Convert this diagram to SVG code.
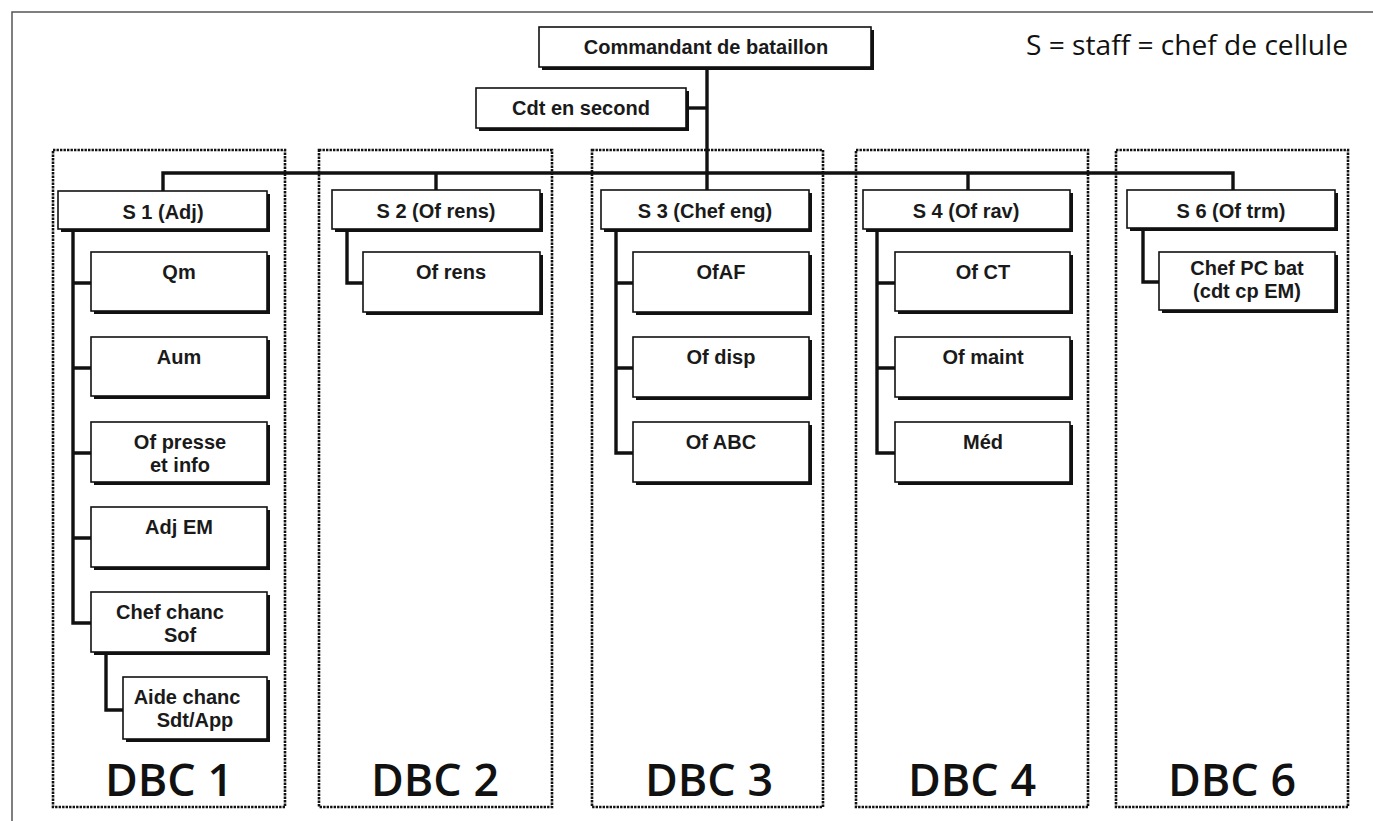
<svg xmlns="http://www.w3.org/2000/svg" width="1373" height="821" viewBox="0 0 1373 821">
<style>
.bg{fill:#ffffff}
.frame{fill:none;stroke:#555;stroke-width:1.5}
.dbc{fill:none;stroke:#111;stroke-width:2.6;stroke-dasharray:2.4 1.1}
.sh{fill:#111}
.bx{fill:#fff;stroke:#111;stroke-width:1.6}
.t{font-family:"Liberation Sans",Arial,sans-serif;font-weight:bold;font-size:20px;fill:#1a1a1a;text-anchor:middle}
.big{font-family:"Open Sans","Liberation Sans",sans-serif;font-weight:600;font-size:46px;fill:#111;text-anchor:middle}
.leg{font-family:"Open Sans","Liberation Sans",sans-serif;font-size:28px;fill:#111}
.c{fill:none;stroke:#111;stroke-width:3.4}
</style>
<rect class="bg" x="0" y="0" width="1373" height="821"/>
<path class="frame" d="M12,821 V12 H1373"/>

<text class="leg" x="1026" y="55" textLength="322" lengthAdjust="spacingAndGlyphs">S = staff = chef de cellule</text>

<!-- DBC frames -->
<g id="dbc1"><rect class="dbc" x="53" y="150" width="232" height="657"/><text class="big" x="169" y="796" textLength="128" lengthAdjust="spacingAndGlyphs">DBC 1</text></g>
<g id="dbc2"><rect class="dbc" x="319" y="150" width="233" height="657"/><text class="big" x="435" y="796" textLength="128" lengthAdjust="spacingAndGlyphs">DBC 2</text></g>
<g id="dbc3"><rect class="dbc" x="592" y="150" width="231" height="657"/><text class="big" x="709" y="796" textLength="128" lengthAdjust="spacingAndGlyphs">DBC 3</text></g>
<g id="dbc4"><rect class="dbc" x="856" y="150" width="232" height="657"/><text class="big" x="972" y="796" textLength="128" lengthAdjust="spacingAndGlyphs">DBC 4</text></g>
<g id="dbc6"><rect class="dbc" x="1116" y="150" width="232" height="657"/><text class="big" x="1232" y="796" textLength="128" lengthAdjust="spacingAndGlyphs">DBC 6</text></g>

<!-- connectors -->
<g id="connectors">
<path class="c" d="M707,67 V190"/>
<path class="c" d="M686,108 H707"/>
<path class="c" d="M163,191 V173 H1233 V190"/>
<path class="c" d="M436,173 V190"/>
<path class="c" d="M968,173 V190"/>
<path class="c" d="M73,229 V623 H91 M73,283 H91 M73,368 H91 M73,453 H91 M73,538 H91"/>
<path class="c" d="M106,651 V710 H123"/>
<path class="c" d="M347,229 V283 H363"/>
<path class="c" d="M616,229 V453 H633 M616,283 H633 M616,368 H633"/>
<path class="c" d="M877,229 V453 H895 M877,283 H895 M877,368 H895"/>
<path class="c" d="M1143,229 V282 H1159"/>
</g>

<!-- nodes -->
<g id="cmd"><rect class="sh" x="542" y="30" width="332" height="40"/><rect class="bx" x="539" y="27" width="332" height="40"/><text class="t" x="706" y="54">Commandant de bataillon</text></g>
<g id="cdt2"><rect class="sh" x="479" y="91" width="210" height="40"/><rect class="bx" x="476" y="88" width="210" height="40"/><text class="t" x="581" y="115">Cdt en second</text></g>

<g id="s1"><rect class="sh" x="61" y="194" width="209" height="38"/><rect class="bx" x="58" y="191" width="209" height="38"/><text class="t" x="163" y="219">S 1 (Adj)</text></g>
<g id="qm"><rect class="sh" x="94" y="255" width="176" height="59"/><rect class="bx" x="91" y="252" width="176" height="59"/><text class="t" x="179" y="279">Qm</text></g>
<g id="aum"><rect class="sh" x="94" y="340" width="176" height="59"/><rect class="bx" x="91" y="337" width="176" height="59"/><text class="t" x="179" y="364">Aum</text></g>
<g id="ofpresse"><rect class="sh" x="94" y="425" width="176" height="60"/><rect class="bx" x="91" y="422" width="176" height="60"/><text class="t" x="180" y="449">Of presse</text><text class="t" x="180" y="472">et info</text></g>
<g id="adjem"><rect class="sh" x="94" y="510" width="176" height="60"/><rect class="bx" x="91" y="507" width="176" height="60"/><text class="t" x="179" y="534">Adj EM</text></g>
<g id="chefchanc"><rect class="sh" x="94" y="595" width="176" height="60"/><rect class="bx" x="91" y="592" width="176" height="60"/><text class="t" x="170" y="619">Chef chanc</text><text class="t" x="180" y="642">Sof</text></g>
<g id="aidechanc"><rect class="sh" x="126" y="680" width="144" height="62"/><rect class="bx" x="123" y="677" width="144" height="62"/><text class="t" x="187" y="704">Aide chanc</text><text class="t" x="195" y="727">Sdt/App</text></g>

<g id="s2"><rect class="sh" x="335" y="193" width="208" height="39"/><rect class="bx" x="332" y="190" width="208" height="39"/><text class="t" x="436" y="218">S 2 (Of rens)</text></g>
<g id="ofrens"><rect class="sh" x="366" y="255" width="177" height="60"/><rect class="bx" x="363" y="252" width="177" height="60"/><text class="t" x="451" y="279">Of rens</text></g>

<g id="s3"><rect class="sh" x="604" y="193" width="208" height="39"/><rect class="bx" x="601" y="190" width="208" height="39"/><text class="t" x="705" y="218">S 3 (Chef eng)</text></g>
<g id="ofaf"><rect class="sh" x="636" y="255" width="176" height="60"/><rect class="bx" x="633" y="252" width="176" height="60"/><text class="t" x="721" y="279">OfAF</text></g>
<g id="ofdisp"><rect class="sh" x="636" y="340" width="176" height="60"/><rect class="bx" x="633" y="337" width="176" height="60"/><text class="t" x="721" y="364">Of disp</text></g>
<g id="ofabc"><rect class="sh" x="636" y="425" width="176" height="60"/><rect class="bx" x="633" y="422" width="176" height="60"/><text class="t" x="721" y="449">Of ABC</text></g>

<g id="s4"><rect class="sh" x="866" y="193" width="207" height="39"/><rect class="bx" x="863" y="190" width="207" height="39"/><text class="t" x="966" y="218">S 4 (Of rav)</text></g>
<g id="ofct"><rect class="sh" x="898" y="255" width="175" height="59"/><rect class="bx" x="895" y="252" width="175" height="59"/><text class="t" x="983" y="279">Of CT</text></g>
<g id="ofmaint"><rect class="sh" x="898" y="340" width="175" height="60"/><rect class="bx" x="895" y="337" width="175" height="60"/><text class="t" x="983" y="364">Of maint</text></g>
<g id="med"><rect class="sh" x="898" y="425" width="175" height="60"/><rect class="bx" x="895" y="422" width="175" height="60"/><text class="t" x="983" y="449">Méd</text></g>

<g id="s6"><rect class="sh" x="1130" y="193" width="208" height="38"/><rect class="bx" x="1127" y="190" width="208" height="38"/><text class="t" x="1231" y="218">S 6 (Of trm)</text></g>
<g id="chefpc"><rect class="sh" x="1162" y="255" width="176" height="58"/><rect class="bx" x="1159" y="252" width="176" height="58"/><text class="t" x="1247" y="275">Chef PC bat</text><text class="t" x="1247" y="298">(cdt cp EM)</text></g>
</svg>
